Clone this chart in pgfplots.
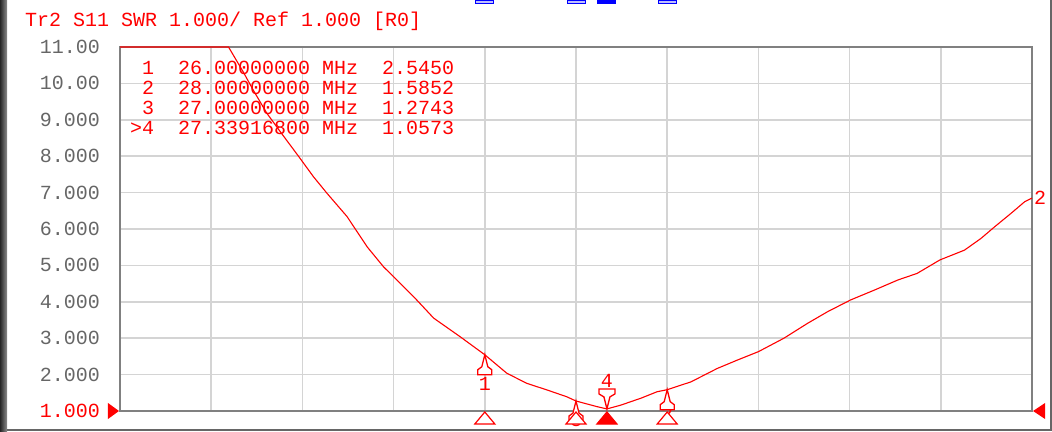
\documentclass[border=0pt]{standalone}
\usepackage{fontspec}
\newfontfamily\vnafont{Liberation Mono}
\usepackage{pgfplots}
\pgfplotsset{compat=1.18}
\newcommand\vf{\vnafont\fontsize{20bp}{22bp}\selectfont}

\pgfdeclareplotmark{mkup}{%
 \pgfpathmoveto{\pgfpoint{0bp}{0bp}}%
 \pgfpathlineto{\pgfpoint{-3bp}{-12bp}}%
 \pgfpathlineto{\pgfpoint{-7bp}{-15bp}}%
 \pgfpathlineto{\pgfpoint{-7bp}{-20bp}}%
 \pgfpathlineto{\pgfpoint{7bp}{-20bp}}%
 \pgfpathlineto{\pgfpoint{7bp}{-15bp}}%
 \pgfpathlineto{\pgfpoint{3bp}{-12bp}}%
 \pgfpathclose
 \pgfusepathqfillstroke}
\pgfdeclareplotmark{mkdown}{%
 \pgfpathmoveto{\pgfpoint{0bp}{0bp}}%
 \pgfpathlineto{\pgfpoint{-3bp}{12bp}}%
 \pgfpathlineto{\pgfpoint{-8bp}{15bp}}%
 \pgfpathlineto{\pgfpoint{-8bp}{20bp}}%
 \pgfpathlineto{\pgfpoint{8bp}{20bp}}%
 \pgfpathlineto{\pgfpoint{8bp}{15bp}}%
 \pgfpathlineto{\pgfpoint{3bp}{12bp}}%
 \pgfpathclose
 \pgfusepathqfillstroke}
\pgfdeclareplotmark{bottri}{%
 \pgfpathmoveto{\pgfpoint{0bp}{-1bp}}%
 \pgfpathlineto{\pgfpoint{-10bp}{-13bp}}%
 \pgfpathlineto{\pgfpoint{10bp}{-13bp}}%
 \pgfpathclose
 \pgfusepathqfillstroke}
\pgfdeclareplotmark{topbar}{%
 \pgfpathrectangle{\pgfpoint{-9bp}{-3.5bp}}{\pgfpoint{18bp}{3.5bp}}%
 \pgfusepathqfillstroke}

\begin{document}
\begin{tikzpicture}
\shade[left color=black!85, right color=black!45] (0,0) rectangle (7bp,432bp);
\draw[black!60, line width=1.5bp] (7bp,2bp) -- (1052bp,2bp);
\draw[black!60, line width=1.5bp] (1051bp,2bp) -- (1051bp,432bp);

\begin{axis}[
  at={(120bp,21bp)}, anchor=south west,
  scale only axis, width=912bp, height=364bp,
  xmin=22, xmax=32, ymin=1, ymax=11,
  xtick={22,...,32}, ytick={1,...,11},
  xticklabels={},
  yticklabels={\textcolor{red}{1.000},2.000,3.000,4.000,5.000,6.000,7.000,8.000,9.000,10.00,11.00},
  grid=major,
  major grid style={draw=black!17, line width=1.5bp},
  axis line style={draw=black!50, line width=1.6bp},
  major tick length=0pt,
  tick label style={font=\vf, text=black!60},
  yticklabel style={anchor=east, inner sep=0pt, xshift=-20bp},
  clip=false,
]
\addplot[red, line width=1.1bp] coordinates {
(22.00,11.00) (23.19,11.00) (23.35,10.32) (23.46,9.82) (23.61,9.18)
(23.77,8.63) (23.96,7.99) (24.12,7.44) (24.27,6.98) (24.49,6.34)
(24.71,5.51) (24.89,4.96) (25.00,4.69) (25.22,4.14) (25.44,3.55)
(25.73,3.04) (26.00,2.545) (26.24,2.04) (26.46,1.76) (26.68,1.58)
(26.90,1.39) (27.00,1.2743) (27.23,1.12) (27.339,1.0573) (27.49,1.16)
(27.71,1.35) (27.89,1.53) (28.00,1.5852) (28.26,1.80) (28.55,2.17)
(28.77,2.40) (29.00,2.63) (29.28,3.00) (29.54,3.41) (29.76,3.73)
(30.01,4.05) (30.27,4.32) (30.53,4.60) (30.74,4.78) (30.99,5.15)
(31.26,5.42) (31.44,5.74) (31.59,6.06) (31.77,6.43) (31.92,6.75)
(32.00,6.85)
};
% markers on trace
\addplot[only marks, mark=mkup, mark options={draw=red, fill=white, line width=1.3bp}]
  coordinates {(26,2.545) (27,1.2743) (28,1.5852)};
\addplot[only marks, mark=mkdown, mark options={draw=red, fill=white, line width=1.3bp}]
  coordinates {(27.339168,1.0573)};
% markers along the bottom
\addplot[only marks, mark=bottri, mark options={draw=red, fill=white, line width=1.2bp}]
  coordinates {(26,1) (27,1) (28,1)};
\addplot[only marks, mark=bottri, mark options={draw=red, fill=red, line width=1.2bp}]
  coordinates {(27.339168,1)};
% markers at the top edge
\addplot[only marks, mark=topbar, mark options={draw=blue, fill=blue!25, line width=1bp}]
  coordinates {(26,12.29) (27,12.29) (28,12.29)};
\addplot[only marks, mark=topbar, mark options={draw=blue, fill=blue, line width=1bp}]
  coordinates {(27.339168,12.29)};

\node[red, font=\vf, inner sep=0pt] at ([yshift=-29bp]axis cs:26,2.545) {1};
\node[red, font=\vf, inner sep=0pt] at ([yshift=28bp]axis cs:27.339168,1.0573) {4};
\node[red, font=\vf, inner sep=0pt] at ([yshift=-19bp]axis cs:27,1.2743) {3};
\node[red, font=\vf, inner sep=0pt] at ([yshift=-24bp]axis cs:28,1.5852) {2};
\node[red, font=\vf, inner sep=0pt, anchor=west] at ([xshift=2bp]axis cs:32,6.85) {2};

\fill[red] ([xshift=-1bp]axis cs:22,1) -- ++(-11bp,8bp) -- ++(0bp,-16bp) -- cycle;
\fill[red] ([xshift=1bp]axis cs:32,1) -- ++(12bp,8bp) -- ++(0bp,-16bp) -- cycle;
\end{axis}

\node[red, font=\vf, inner sep=0pt, anchor=base west] at (25bp,405.5bp)
  {Tr2~S11~SWR~1.000/~Ref~1.000~[R0]};
\node[red, font=\vf, inner sep=0pt, anchor=base west] at (130bp,357bp)
  {\hphantom{>}1~~26.00000000~MHz~~2.5450};
\node[red, font=\vf, inner sep=0pt, anchor=base west] at (130bp,337bp)
  {\hphantom{>}2~~28.00000000~MHz~~1.5852};
\node[red, font=\vf, inner sep=0pt, anchor=base west] at (130bp,317bp)
  {\hphantom{>}3~~27.00000000~MHz~~1.2743};
\node[red, font=\vf, inner sep=0pt, anchor=base west] at (130bp,297bp)
  {>4~~27.33916800~MHz~~1.0573};

\pgfresetboundingbox
\useasboundingbox (0,0) rectangle (1052bp,432bp);
\end{tikzpicture}
\end{document}
